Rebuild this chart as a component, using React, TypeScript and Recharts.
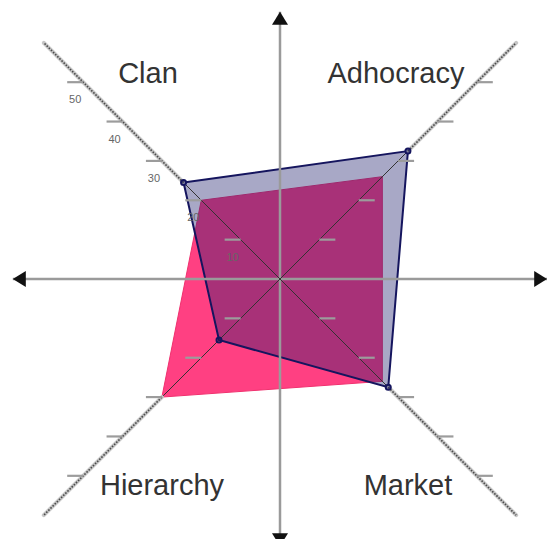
import React from 'react';
import {RadarChart, Radar, PolarAngleAxis, PolarRadiusAxis} from 'recharts';

// the four culture types (OCAI)
const cultures = ['Clan', 'Adhocracy', 'Market', 'Hierarchy'];
const nowScores = [24.5, 32.5, 27.5, 15.5];
const preferredScores = [20, 26, 26, 30];
const scaleTicks = [10, 20, 30, 40, 50];
const scaleMax = 60;

const data = cultures.map((c, i) => ({
  culture: c,
  now: nowScores[i],
  preferred: preferredScores[i],
}));

const CX = 280;
const CY = 279;
const R = 334;

// where the big name of each quadrant sits, relative to centre
const labelOffset: Record<string, [number, number]> = {
  Clan: [-132, -196],
  Adhocracy: [116, -196],
  Market: [128, 216],
  Hierarchy: [-118, 216],
};

function arrowHead(tx: number, ty: number, dx: number, dy: number) {
  const len = 13;
  const half = 8;
  const bx = tx - dx * len;
  const by = ty - dy * len;
  return `${tx},${ty} ${bx - dy * half},${by + dx * half} ${bx + dy * half},${by - dx * half}`;
}

function AxisTick(props: any) {
  const {payload, index} = props;
  const ang = ((payload && payload.coordinate != null ? payload.coordinate : 135 - 90 * index) * Math.PI) / 180;
  const ux = Math.cos(ang);
  const uy = -Math.sin(ang);
  const rOf = (v: number) => (v / scaleMax) * R;
  const top = Math.max(nowScores[index], preferredScores[index]);
  const side = ux < 0 ? -1 : 1;
  const name = payload.value as string;
  const off = labelOffset[name] || [0, 0];
  const arm = R * 0.8;

  return (
    <g>
      {index === 0 && (
        <g>
          <line x1={CX} y1={CY - arm} x2={CX} y2={CY + arm} stroke="#9a9a9a" strokeWidth={2.5} />
          <line x1={CX - arm} y1={CY} x2={CX + arm} y2={CY} stroke="#9a9a9a" strokeWidth={2.5} />
          <polygon points={arrowHead(CX, CY - arm, 0, -1)} fill="#111" />
          <polygon points={arrowHead(CX, CY + arm, 0, 1)} fill="#111" />
          <polygon points={arrowHead(CX - arm, CY, -1, 0)} fill="#111" />
          <polygon points={arrowHead(CX + arm, CY, 1, 0)} fill="#111" />
        </g>
      )}
      <line x1={CX} y1={CY} x2={CX + ux * R} y2={CY + uy * R} stroke="#333" strokeWidth={1} />
      <line
        x1={CX + ux * rOf(top)}
        y1={CY + uy * rOf(top)}
        x2={CX + ux * R}
        y2={CY + uy * R}
        stroke="#c6c6c6"
        strokeWidth={4}
        strokeLinecap="round"
      />
      <line
        x1={CX + ux * rOf(top)}
        y1={CY + uy * rOf(top)}
        x2={CX + ux * R}
        y2={CY + uy * R}
        stroke="#4a4a4a"
        strokeWidth={1.6}
        strokeDasharray="1.6 1.4"
      />
      {scaleTicks.map((t) => {
        const px = CX + ux * rOf(t);
        const py = CY + uy * rOf(t);
        return (
          <g key={t}>
            <line x1={px} y1={py} x2={px + side * 16} y2={py} stroke="#9c9c9c" strokeWidth={2.2} />
            {index === 0 && (
              <text x={px - 8} y={py + 21} textAnchor="middle" fontSize={11} fill="#666" fontFamily="Liberation Sans, Arial, sans-serif">
                {t}
              </text>
            )}
          </g>
        );
      })}
      <text
        x={CX + off[0]}
        y={CY + off[1]}
        textAnchor="middle"
        fontSize={29}
        fill="#333"
        fontFamily="Liberation Sans, Arial, sans-serif"
      >
        {name}
      </text>
    </g>
  );
}

export default function App() {
  return (
    <div>
      <style>{'body{margin:0}'}</style>
      <RadarChart
        width={547}
        height={539}
        data={data}
        cx={CX}
        cy={CY}
        outerRadius={R}
        startAngle={135}
        endAngle={-225}
        margin={{top: 0, right: 0, bottom: 0, left: 0}}
      >
        <PolarAngleAxis dataKey="culture" axisLine={false} tickLine={false} tick={AxisTick} />
        <PolarRadiusAxis type="number" domain={[0, scaleMax]} tick={false} axisLine={false} />
        <Radar
          dataKey="preferred"
          stroke="#f0306e"
          strokeWidth={1}
          fill="#ff1f6c"
          fillOpacity={0.85}
          dot={false}
          isAnimationActive={false}
        />
        <Radar
          dataKey="now"
          stroke="#15155e"
          strokeWidth={2}
          fill="#1b1b6a"
          fillOpacity={0.38}
          dot={{r: 2.5, fill: '#15155e', stroke: '#15155e'}}
          isAnimationActive={false}
        />
      </RadarChart>
    </div>
  );
}
